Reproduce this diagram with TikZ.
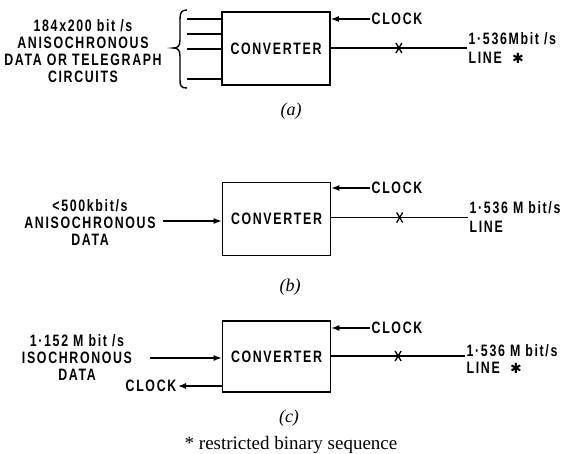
\documentclass[tikz,border=0pt]{standalone}
\usepackage{fontspec}
\usetikzlibrary{arrows.meta}
\newfontfamily\lett{Liberation Sans}[FakeStretch=0.75,LetterSpace=10]
\newfontfamily\djv{DejaVu Sans}
\newfontfamily\serifcap{Liberation Serif}
\tikzset{
  lbl/.style={font=\lett\fontsize{16.5}{17}\selectfont\bfseries, inner sep=1.5pt, align=center},
  rlbl/.style={lbl, align=left, anchor=west, font=\lett\fontsize{16.5}{19}\selectfont\bfseries},
  box/.style={draw, line width=1.6pt, minimum width=108pt, minimum height=73pt, lbl},
  wire/.style={line width=1.4pt},
  arr/.style={wire, -{Latex[length=8pt,width=6pt]}},
  figcap/.style={font=\serifcap\fontsize{18}{20}\selectfont\itshape},
  xm/.pic={\draw[line width=1.3pt] (-3,-5) -- (3,5) (-3,5) -- (3,-5);}
}
\begin{document}
\begin{tikzpicture}[x=1pt,y=-1pt]
\useasboundingbox (0,0) rectangle (571,454);
% ---------------- (a)
\node[box] (ca) at (276,48.5) {CONVERTER};
\node[lbl] (ina) at (83,51.5) {184x200 bit /s\\ANISOCHRONOUS\\DATA OR TELEGRAPH\\CIRCUITS};
\coordinate (a1) at (187,19);
\coordinate (a2) at (187,34);
\coordinate (a3) at (187,49);
\coordinate (a4) at (187,79);
\foreach \c in {a1,a2,a3,a4} \draw[wire] (\c) -- (\c -| ca.west);
\draw[wire] (187,10) .. controls (181,10) and (180,13) .. (180,20) -- (180,40)
  .. controls (180,46) and (178,48) .. (173,48)
  .. controls (178,48) and (180,50) .. (180,56) -- (180,80)
  .. controls (180,86) and (181,88) .. (187,88);
\node[lbl, anchor=west] (clka) at (370,19) {CLOCK};
\draw[arr] (clka.west) -- (clka.west -| ca.east);
\node[rlbl] (lna) at (467,48) {1·536Mbit /s\\LINE\ \ {\djv\fontsize{14}{15}\selectfont ✱}};
\draw[wire] (lna.west -| ca.east) -- coordinate[midway] (xa) (lna.west);
\pic at (xa) {xm};
\node[figcap] (capa) at (291,111) {(a)};
% ---------------- (b)
\node[box] (cb) at (276.5,219) {CONVERTER};
\node[lbl] (inb) at (90,223) {<500kbit/s\\ANISOCHRONOUS\\DATA};
\coordinate (bin) at (163,221);
\draw[arr] (bin) -- (bin -| cb.west);
\node[lbl, anchor=west] (clkb) at (370,188) {CLOCK};
\draw[arr] (clkb.west) -- (clkb.west -| cb.east);
\node[rlbl] (lnb) at (468,217.5) {1·536 M bit/s\\LINE};
\draw[wire] (lnb.west -| cb.east) -- coordinate[midway] (xb) (lnb.west);
\pic at (xb) {xm};
\node[figcap] (capb) at (290,287) {(b)};
% ---------------- (c)
\node[box, minimum height=71pt] (cc) at (276.5,356.5) {CONVERTER};
\node[lbl] (inc) at (77,357.5) {1·152 M bit /s\\ISOCHRONOUS\\DATA};
\coordinate (cin) at (150,358);
\draw[arr] (cin) -- (cin -| cc.west);
\node[lbl, anchor=east] (clkco) at (178,386) {CLOCK};
\draw[arr] (clkco.east -| cc.west) -- (clkco.east);
\node[lbl, anchor=west] (clkc) at (370,328) {CLOCK};
\draw[arr] (clkc.west) -- (clkc.west -| cc.east);
\coordinate (lc) at (465,356);
\node[rlbl, font=\lett\fontsize{16.5}{17}\selectfont\bfseries] (lnc) at (465,359.5) {1·536 M bit/s\\LINE\ \ {\djv\fontsize{14}{15}\selectfont ✱}};
\draw[wire] (lc -| cc.east) -- coordinate[midway] (xc) (lc);
\pic at (xc) {xm};
\node[figcap] (capc) at (289,418) {(c)};
\node[font=\serifcap\fontsize{19}{20}\selectfont] (foot) at (291,445) {* restricted binary sequence};
\end{tikzpicture}
\end{document}
